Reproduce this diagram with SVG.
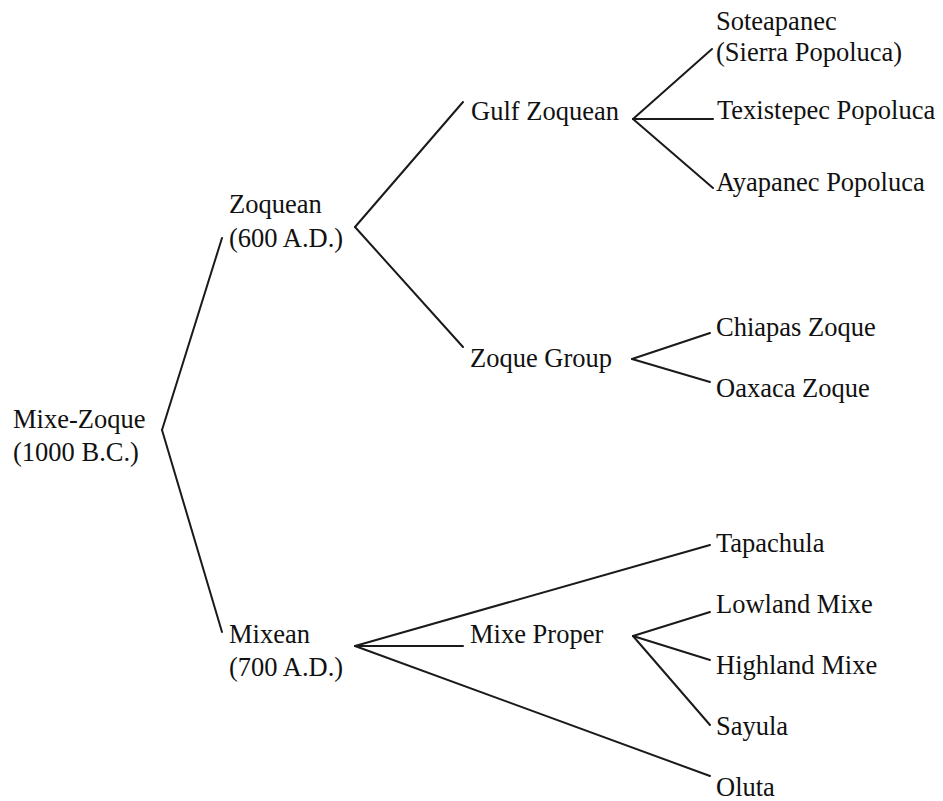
<svg xmlns="http://www.w3.org/2000/svg" width="943" height="801" viewBox="0 0 943 801">
<style>
text{font-family:"Liberation Serif","Times New Roman",serif;font-size:26.5px;fill:#111}
.c line{stroke:#1a1a1a;stroke-width:2;stroke-linecap:round}
</style>
<rect width="943" height="801" fill="#fff"/>
<g class="c" id="connectors">
<line x1="162" y1="430" x2="222" y2="238"/>
<line x1="162" y1="430" x2="222" y2="632"/>
<line x1="355" y1="227" x2="463" y2="102"/>
<line x1="355" y1="227" x2="463" y2="347"/>
<line x1="633" y1="119" x2="712" y2="49"/>
<line x1="633" y1="119" x2="713" y2="119"/>
<line x1="633" y1="119" x2="713" y2="188"/>
<line x1="632" y1="359" x2="710" y2="333"/>
<line x1="632" y1="359" x2="710" y2="382"/>
<line x1="355" y1="646" x2="710" y2="545"/>
<line x1="355" y1="646" x2="463" y2="646"/>
<line x1="355" y1="646" x2="710" y2="776"/>
<line x1="633" y1="636" x2="710" y2="612"/>
<line x1="633" y1="636" x2="710" y2="660"/>
<line x1="633" y1="636" x2="710" y2="725"/>
</g>
<g id="mixe-zoque"><text x="13" y="428">Mixe-Zoque</text><text x="13" y="461">(1000 B.C.)</text></g>
<g id="zoquean"><text x="229" y="213">Zoquean</text><text x="229" y="247">(600 A.D.)</text></g>
<g id="mixean"><text x="229" y="643">Mixean</text><text x="229" y="676">(700 A.D.)</text></g>
<g id="gulf-zoquean"><text x="471" y="120">Gulf Zoquean</text></g>
<g id="zoque-group"><text x="470" y="367">Zoque Group</text></g>
<g id="mixe-proper"><text x="470" y="643">Mixe Proper</text></g>
<g id="soteapanec"><text x="716" y="30">Soteapanec</text><text x="716" y="61">(Sierra Popoluca)</text></g>
<g id="texistepec"><text x="717" y="119">Texistepec Popoluca</text></g>
<g id="ayapanec"><text x="716" y="191">Ayapanec Popoluca</text></g>
<g id="chiapas"><text x="716" y="336">Chiapas Zoque</text></g>
<g id="oaxaca"><text x="716" y="397">Oaxaca Zoque</text></g>
<g id="tapachula"><text x="716" y="552">Tapachula</text></g>
<g id="lowland"><text x="716" y="613">Lowland Mixe</text></g>
<g id="highland"><text x="716" y="674">Highland Mixe</text></g>
<g id="sayula"><text x="716" y="735">Sayula</text></g>
<g id="oluta"><text x="716" y="796">Oluta</text></g>
</svg>
